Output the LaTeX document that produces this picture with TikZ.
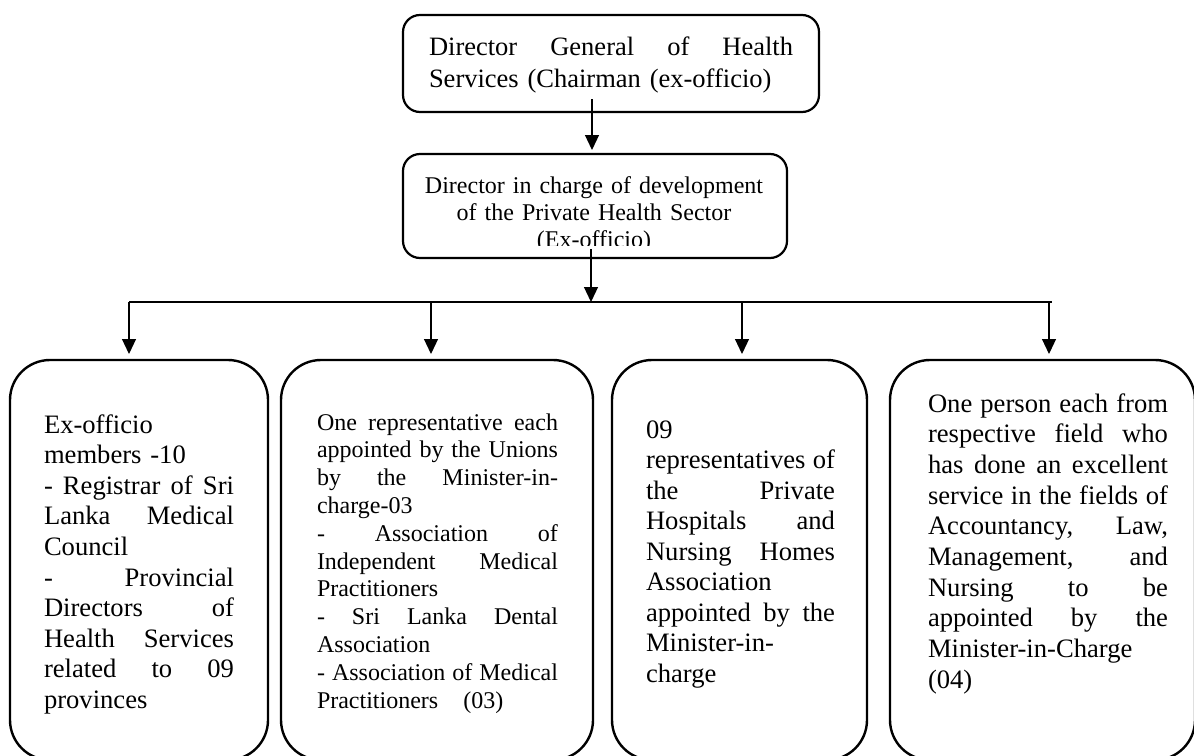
\documentclass[tikz,border=0pt]{standalone}
\usepackage{fontspec}
\setmainfont{Liberation Serif}
\usetikzlibrary{arrows.meta}
\setlength{\parindent}{0pt}
\newlength{\jw}
\newcommand{\jl}[1]{\leavevmode\hbox to \jw{#1}}
\newcommand{\st}{\rule{0pt}{25pt}}
\newcommand{\f}{\hfill}
\begin{document}
\begin{tikzpicture}[x=1pt,y=-1pt,
  box/.style={draw, line width=2.2pt, rounded corners=17pt, inner sep=0pt, outer sep=0pt},
  bbox/.style={draw, line width=2.4pt, rounded corners=40pt, inner sep=0pt, outer sep=0pt, minimum height=400pt},
  txt/.style={inner sep=0pt, outer sep=0pt, anchor=north west, align=left, font=\fontsize{26.6}{30.6}\selectfont},
  arr/.style={line width=1.2pt, -{Triangle[width=14pt,length=15pt]}},
  bus/.style={line width=1.3pt}]
\useasboundingbox (0,0) rectangle (1194,755);

% top boxes
\node[box, minimum width=416pt, minimum height=97pt] (top) at (611,63.5) {};
\node[box, minimum width=384pt, minimum height=104pt] (dir) at (595,206) {};

\node[txt, font=\fontsize{26.5}{32}\selectfont, text width=364pt] (toptext) at (429,30)
  {\setlength{\jw}{364pt}\st\jl{Director\f General\f of\f Health}\\Services (Chairman (ex-officio)};

\begin{scope}
\clip (395,150) rectangle (795,245);
\node[inner sep=0pt, anchor=north, align=center, text width=384pt, font=\fontsize{24}{27}\selectfont] (dirtext) at (594,171)
  {\rule{0pt}{22pt}Director in charge of development\\of the Private Health Sector\\(Ex-officio)};
\end{scope}

% bottom boxes
\node[bbox, minimum width=258pt] (b1) at (139,560) {};
\node[bbox, minimum width=312pt] (b2) at (437,560) {};
\node[bbox, minimum width=255pt] (b3) at (739.5,560) {};
\node[bbox, minimum width=305pt] (b4) at (1042.5,560) {};

% connectors
\coordinate (a1) at (592,99);
\coordinate (a2) at (591,249);
\coordinate (busL) at (129,302);
\coordinate (busR) at (1052,302);
\coordinate (bus0) at (591,302);
\coordinate (t2) at (431,302);
\coordinate (t3) at (742,302);
\coordinate (t4) at (1049,302);

\draw[arr, shorten >=4pt] (a1) -- (a1 |- dir.north);
\draw[arr] (a2) -- (bus0);
\draw[bus] (busL) -- (busR);
\draw[arr, shorten >=6pt] (busL) -- (busL |- b1.north);
\draw[arr, shorten >=6pt] (t2) -- (t2 |- b2.north);
\draw[arr, shorten >=6pt] (t3) -- (t3 |- b3.north);
\draw[arr, shorten >=6pt] (t4) -- (t4 |- b4.north);

% bottom texts
\node[txt, text width=190pt] (t1txt) at (44,408)
  {\setlength{\jw}{190pt}\st Ex-officio\\
   members -10\\
   \jl{-\f Registrar\f of\f Sri}\\
   \jl{Lanka\f Medical}\\
   Council\\
   \jl{-\f Provincial}\\
   \jl{Directors\f of}\\
   \jl{Health\f Services}\\
   \jl{related\f to\f 09}\\
   provinces};

\node[txt, text width=241pt, font=\fontsize{24}{27.8}\selectfont] (t2txt) at (317,408)
  {\setlength{\jw}{241pt}\rule{0pt}{22pt}\jl{One\f representative\f each}\\
   \jl{appointed\f by\f the\f Unions}\\
   \jl{by\f the\f Minister-in-}\\
   charge-03\\
   \jl{-\f Association\f of}\\
   \jl{Independent\f Medical}\\
   Practitioners\\
   \jl{-\f Sri\f Lanka\f Dental}\\
   Association\\
   \jl{-\f Association\f of\f Medical}\\
   Practitioners\hspace{25pt}(03)};

\node[txt, text width=189pt, font=\fontsize{26.6}{30.5}\selectfont] (t3txt) at (646,413)
  {\setlength{\jw}{189pt}\st 09\\
   \jl{representatives\f of}\\
   \jl{the\f Private}\\
   \jl{Hospitals\f and}\\
   \jl{Nursing\f Homes}\\
   Association\\
   \jl{appointed\f by\f the}\\
   Minister-in-\\
   charge};

\node[txt, text width=240pt, font=\fontsize{26.6}{30.7}\selectfont] (t4txt) at (928,387)
  {\setlength{\jw}{240pt}\st\jl{One\f person\f each\f from}\\
   \jl{respective\f field\f who}\\
   \jl{has\f done\f an\f excellent}\\
   \jl{service\f in\f the\f fields\f of}\\
   \jl{Accountancy,\f Law,}\\
   \jl{Management,\f and}\\
   \jl{Nursing\f to\f be}\\
   \jl{appointed\f by\f the}\\
   Minister-in-Charge\\
   (04)};
\end{tikzpicture}
\end{document}
